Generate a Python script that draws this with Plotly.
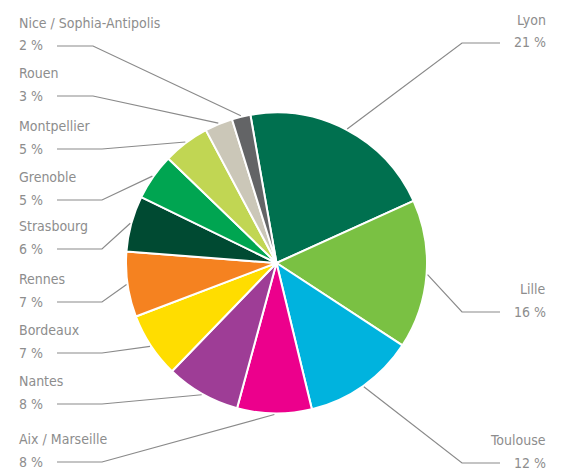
import math
import plotly.graph_objects as go

# ---- data ----
cities = ["Lyon", "Lille", "Toulouse", "Aix / Marseille", "Nantes", "Bordeaux",
          "Rennes", "Strasbourg", "Grenoble", "Montpellier", "Rouen",
          "Nice / Sophia-Antipolis"]
shares = [21, 16, 12, 8, 8, 7, 7, 6, 5, 5, 3, 2]
colors = ["#00704F", "#7AC143", "#00B3DE", "#EC008C", "#9E3D96", "#FFDD00",
          "#F58220", "#004A32", "#00A551", "#C1D653", "#CBC7B8", "#636466"]

# ---- layout (pixels in the 565x471 page) ----
W, H = 565, 471
CX, CY, R = 276.5, 263.0, 150.5
ROTATION = -10  # degrees, first slice start (clockwise from 12 o'clock)
# label rows: side, y of percent line / leader horizontal
label_rows = {
    "Lyon": ("right", 43), "Lille": ("right", 312), "Toulouse": ("right", 463),
    "Aix / Marseille": ("left", 462), "Nantes": ("left", 404),
    "Bordeaux": ("left", 353), "Rennes": ("left", 302),
    "Strasbourg": ("left", 249), "Grenoble": ("left", 200),
    "Montpellier": ("left", 149), "Rouen": ("left", 96),
    "Nice / Sophia-Antipolis": ("left", 46),
}
TEXT_COLOR = "#8d8d8d"
LINE_COLOR = "#8a8a8a"
FONT = "Liberation Sans Narrow, DejaVu Sans Condensed, Roboto, sans-serif"


def px(x):
    return x / W


def py(y):
    return 1 - y / H


fig = go.Figure(go.Pie(
    labels=cities, values=shares, sort=False, direction="clockwise",
    rotation=ROTATION, textinfo="none", hoverinfo="label+percent",
    marker=dict(colors=colors, line=dict(color="white", width=2)),
    domain=dict(x=[px(CX - R), px(CX + R)], y=[py(CY + R), py(CY - R)]),
    showlegend=False,
))

shapes = []
annotations = []
total = sum(shares)
angle = ROTATION
for name, v in zip(cities, shares):
    span = 360 * v / total
    mid = math.radians(angle + span / 2)
    angle += span
    sx = CX + (R + 1) * math.sin(mid)
    sy = CY - (R + 1) * math.cos(mid)
    side, ry = label_rows[name]
    if side == "left":
        ex = 93 if ry < 120 else 102
        hx = 57
        tx, anchor = 17, "left"
    else:
        ex, hx = 462, 500
        tx, anchor = 548, "right"
    path = f"M {px(sx)} {py(sy)} L {px(ex)} {py(ry)} L {px(hx)} {py(ry)}"
    shapes.append(dict(type="path", path=path, xref="paper", yref="paper",
                       line=dict(color=LINE_COLOR, width=1.2)))
    annotations.append(dict(x=px(tx), y=py(ry - 23), xref="paper", yref="paper",
                            text=name, showarrow=False, xanchor=anchor,
                            yanchor="middle",
                            font=dict(family=FONT, size=14, color=TEXT_COLOR)))
    annotations.append(dict(x=px(tx), y=py(ry - 0.5), xref="paper", yref="paper",
                            text=f"{v} %", showarrow=False, xanchor=anchor,
                            yanchor="middle",
                            font=dict(family=FONT, size=14, color=TEXT_COLOR)))

fig.update_layout(
    width=W, height=H, margin=dict(l=0, r=0, t=0, b=0),
    paper_bgcolor="white", plot_bgcolor="white",
    shapes=shapes, annotations=annotations,
)
fig.write_html("out.html")
